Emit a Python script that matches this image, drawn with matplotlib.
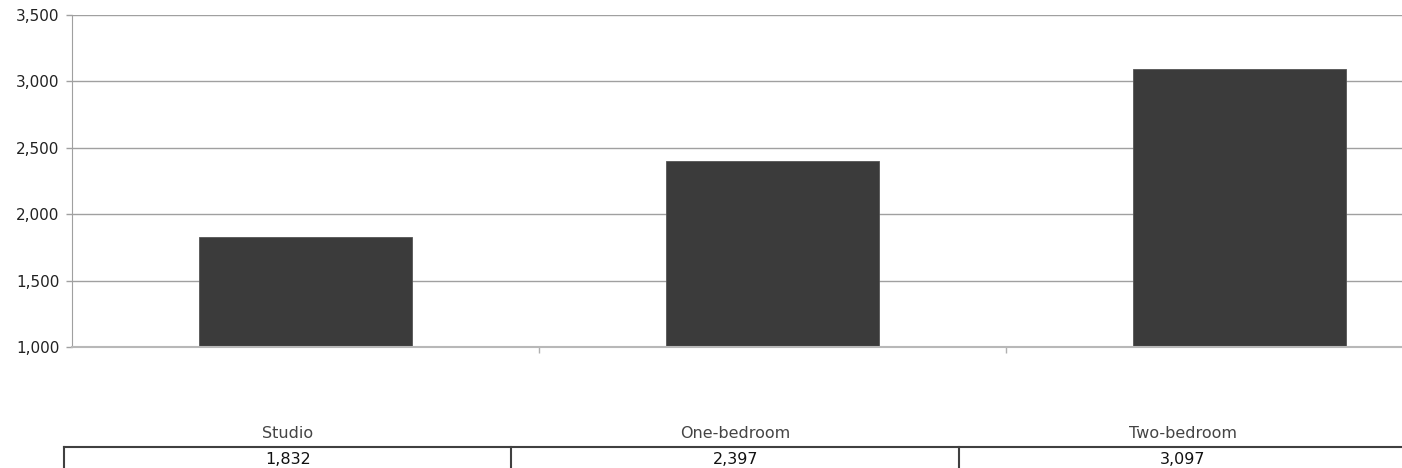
import matplotlib
matplotlib.use("Agg")
import matplotlib.pyplot as plt
from matplotlib.lines import Line2D

categories = ["Studio", "One-bedroom", "Two-bedroom"]
values = [1832, 2397, 3097]
value_labels = ["1,832", "2,397", "3,097"]
y_ticks = [1000, 1500, 2000, 2500, 3000, 3500]

W, H = 1402, 468
fig = plt.figure(figsize=(W / 100, H / 100), dpi=100)

def px(x, y):
    return x / W, 1 - y / H

# axes: left 72px, bottom at y=347, top at y=15, category width 467px
ax = fig.add_axes([72 / W, (H - 347) / H, 1401 / W, 332 / H])
xs = list(range(len(categories)))
ax.bar(xs, values, width=0.454, color="#3b3b3b", edgecolor="#555555",
       linewidth=0.6, zorder=3)
ax.set_xlim(-0.5, 2.5)
ax.set_ylim(y_ticks[0], y_ticks[-1])
ax.set_yticks(y_ticks)
ax.set_yticklabels([f"{t:,}" for t in y_ticks], fontsize=11, color="#222222")
ax.set_xticks([0.5, 1.5])
ax.set_xticklabels([])
ax.tick_params(axis="x", length=4, color="#b0b0b0", width=1)
ax.tick_params(axis="y", length=4, color="#a0a0a0", width=1, pad=5)
ax.grid(axis="y", color="#a0a0a0", linewidth=1, zorder=0)
for s in ["top", "right"]:
    ax.spines[s].set_visible(False)
ax.spines["left"].set_color("#a0a0a0")
ax.spines["bottom"].set_color("#b8b8b8")
ax.spines["bottom"].set_linewidth(1.5)
ax.spines["bottom"].set_zorder(4)

# data table below chart
col_left = 64
col_w = 447.5
line_y = 447
x0, y0 = px(col_left, line_y)
x1, _ = px(W, line_y)
fig.add_artist(Line2D([x0, x1], [y0, y0], color="#404040", linewidth=1.5))
for i in range(len(categories)):
    xl = col_left + i * col_w
    a, b = px(xl, line_y)
    _, c = px(xl, H)
    fig.add_artist(Line2D([a, a], [b, c], color="#404040", linewidth=1.5))
    cx, cy = px(xl + col_w / 2, 433)
    fig.text(cx, cy, categories[i], ha="center", va="center",
             fontsize=11.5, color="#444444")
    vx, vy = px(xl + col_w / 2, 459)
    fig.text(vx, vy, value_labels[i], ha="center", va="center",
             fontsize=11.5, color="#111111")

fig.savefig("out.png", dpi=100)
